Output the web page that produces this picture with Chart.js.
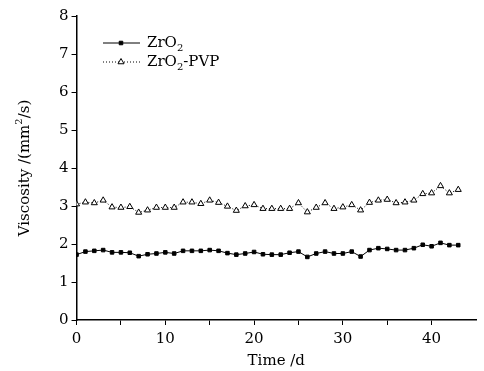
<!DOCTYPE html>
<html>
<head>
<meta charset="utf-8">
<script src="https://cdn.jsdelivr.net/npm/chart.js@4"></script>
<style>
  html, body { margin: 0; padding: 0; background: #fff; }
  #chart { display: block; }
</style>
</head>
<body>
<canvas id="chart" width="484" height="371"></canvas>
<script>
  const days = [
    0, 1, 2, 3, 4, 5, 6, 7, 8, 9, 10, 11, 12, 13, 14, 15, 16, 17, 18, 19, 20, 21,
    22, 23, 24, 25, 26, 27, 28, 29, 30, 31, 32, 33, 34, 35, 36, 37, 38, 39, 40, 41, 42, 43,
  ];
  const zro2 = [
    1.72, 1.8, 1.82, 1.84, 1.78, 1.78, 1.77, 1.68, 1.73, 1.75, 1.78, 1.75, 1.82, 1.82,
    1.82, 1.84, 1.82, 1.76, 1.72, 1.75, 1.79, 1.73, 1.72, 1.72, 1.77, 1.8, 1.66, 1.75,
    1.8, 1.75, 1.75, 1.8, 1.67, 1.84, 1.89, 1.87, 1.84, 1.84, 1.89, 1.98, 1.94, 2.03,
    1.97, 1.97,
  ];
  const zro2Pvp = [
    3.05, 3.1, 3.08, 3.15, 2.97, 2.96, 2.98, 2.83, 2.89, 2.96, 2.96, 2.96, 3.1, 3.1,
    3.06, 3.15, 3.09, 2.99, 2.88, 3.0, 3.03, 2.93, 2.93, 2.93, 2.93, 3.08, 2.84, 2.96,
    3.08, 2.93, 2.97, 3.03, 2.89, 3.09, 3.15, 3.17, 3.08, 3.1, 3.15, 3.32, 3.34, 3.53,
    3.34, 3.43,
  ];
  const xTicks = [0, 10, 20, 30, 40];
  const yTicks = [0, 1, 2, 3, 4, 5, 6, 7, 8];

  const FONT = "'DejaVu Serif', serif";

  function points(values) {
    return days.map((d, i) => ({ x: d, y: values[i] }));
  }

  // text with a subscript "2" after "ZrO"
  function drawFormula(ctx, x, y, rest) {
    ctx.font = "15px " + FONT;
    ctx.fillText("ZrO", x, y);
    let w = ctx.measureText("ZrO").width;
    ctx.font = "10px " + FONT;
    ctx.fillText("2", x + w, y + 5);
    w += ctx.measureText("2").width;
    if (rest) {
      ctx.font = "15px " + FONT;
      ctx.fillText(rest, x + w, y);
    }
  }

  const legendInside = {
    id: "legendInside",
    afterDraw(chart) {
      const ctx = chart.ctx;
      const rows = [
        { ds: chart.data.datasets[0], y: 43, rest: "" },
        { ds: chart.data.datasets[1], y: 62, rest: "-PVP" },
      ];
      ctx.save();
      rows.forEach(({ ds, y, rest }) => {
        ctx.strokeStyle = "#000";
        ctx.lineWidth = ds.borderWidth;
        ctx.setLineDash(ds.borderDash || []);
        ctx.beginPath();
        ctx.moveTo(103, y);
        ctx.lineTo(140, y);
        ctx.stroke();
        ctx.setLineDash([]);
        ctx.fillStyle = ds.pointBackgroundColor;
        ctx.strokeStyle = ds.pointBorderColor;
        ctx.lineWidth = 1;
        Chart.helpers.drawPoint(ctx, {
          pointStyle: ds.pointStyle,
          radius: ds.pointRadius,
          borderWidth: 1,
        }, 121, y);
        ctx.fillStyle = "#000";
        ctx.textBaseline = "middle";
        ctx.textAlign = "left";
        drawFormula(ctx, 147, y, rest);
      });
      ctx.restore();
    },
  };

  const yTitle = {
    id: "yTitle",
    afterDraw(chart) {
      const ctx = chart.ctx;
      const area = chart.chartArea;
      ctx.save();
      ctx.translate(25, (area.top + area.bottom) / 2);
      ctx.rotate(-Math.PI / 2);
      ctx.fillStyle = "#000";
      ctx.textBaseline = "middle";
      const a = "Viscosity /(mm";
      const b = "/s)";
      ctx.font = "10px " + FONT;
      const sw = ctx.measureText("2").width;
      ctx.font = "15px " + FONT;
      const wa = ctx.measureText(a).width;
      const wb = ctx.measureText(b).width;
      let x = -(wa + sw + wb) / 2;
      ctx.fillText(a, x, 0);
      x += wa;
      ctx.font = "10px " + FONT;
      ctx.fillText("2", x, -6);
      x += sw;
      ctx.font = "15px " + FONT;
      ctx.fillText(b, x, 0);
      ctx.restore();
    },
  };

  new Chart(document.querySelector("#chart").getContext("2d"), {
    type: "line",
    data: {
      datasets: [
        {
          label: "ZrO2",
          data: points(zro2),
          borderColor: "#000",
          borderWidth: 1,
          pointStyle: "rect",
          pointRadius: 2.5,
          pointBackgroundColor: "#000",
          pointBorderColor: "#000",
          pointBorderWidth: 1,
        },
        {
          label: "ZrO2-PVP",
          data: points(zro2Pvp),
          borderColor: "#000",
          borderWidth: 1,
          borderDash: [1, 2],
          pointStyle: "triangle",
          pointRadius: 3.5,
          pointBackgroundColor: "#fff",
          pointBorderColor: "#000",
          pointBorderWidth: 1,
        },
      ],
    },
    options: {
      responsive: false,
      animation: false,
      layout: { padding: { left: 56, right: 8, top: 16, bottom: 1 } },
      plugins: {
        legend: { display: false },
        tooltip: { enabled: false },
      },
      scales: {
        x: {
          type: "linear",
          min: 0,
          max: 45,
          border: { color: "#000", width: 1.5 },
          grid: { drawOnChartArea: false, drawTicks: true, tickLength: 5, color: "#000" },
          afterBuildTicks(scale) {
            scale.ticks = [0, 5, 10, 15, 20, 25, 30, 35, 40].map((v) => ({ value: v }));
          },
          ticks: {
            color: "#000",
            font: { family: FONT, size: 15 },
            padding: 5,
            maxRotation: 0,
            callback: (v) => (xTicks.includes(v) ? String(v) : ""),
          },
          title: {
            display: true,
            text: "Time /d",
            color: "#000",
            font: { family: FONT, size: 15 },
            padding: { top: -1, bottom: 0 },
          },
        },
        y: {
          min: 0,
          max: 8,
          border: { color: "#000", width: 1.5 },
          grid: { drawOnChartArea: false, drawTicks: true, tickLength: 5, color: "#000" },
          ticks: {
            stepSize: 0.5,
            color: "#000",
            font: { family: FONT, size: 15 },
            padding: 3,
            callback: (v) => (yTicks.includes(v) ? String(v) : ""),
          },
        },
      },
    },
    plugins: [legendInside, yTitle],
  });
</script>
</body>
</html>
